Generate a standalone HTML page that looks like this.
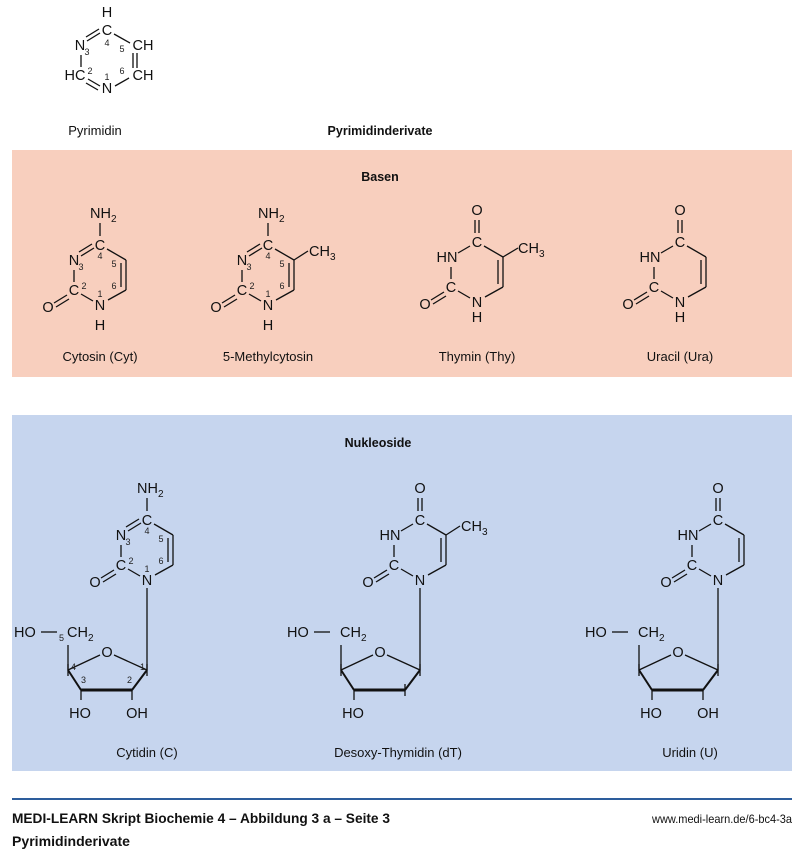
<!DOCTYPE html>
<html><head><meta charset="utf-8"><style>
html,body{margin:0;padding:0;background:#fff;width:800px;height:852px;overflow:hidden}
svg{display:block}
.a{font-family:"Liberation Sans",Arial,sans-serif;font-size:14.5px;fill:#111}
.s{font-family:"Liberation Sans",Arial,sans-serif;font-size:10px;fill:#111}
.n{font-family:"Liberation Sans",Arial,sans-serif;font-size:9px;fill:#222}
.l{font-family:"Liberation Sans",Arial,sans-serif;font-size:13px;fill:#111}
.b{font-family:"Liberation Sans",Arial,sans-serif;font-size:12.5px;font-weight:bold;fill:#111}
.f{font-family:"Liberation Sans",Arial,sans-serif;font-size:14px;font-weight:bold;fill:#111}
line,polyline{stroke:#111;stroke-width:1.3;fill:none}
</style></head><body>
<svg width="800" height="852" viewBox="0 0 800 852" xmlns="http://www.w3.org/2000/svg">
<defs>
<g id="cyt">
  <text class="a" x="0" y="-25" text-anchor="middle">C</text>
  <text class="a" x="-26" y="-10" text-anchor="middle">N</text>
  <text class="a" x="-26" y="20" text-anchor="middle">C</text>
  <text class="a" x="0" y="35" text-anchor="middle">N</text>
  <text class="a" x="0" y="55" text-anchor="middle">H</text>
  <text class="a" x="-52" y="37" text-anchor="middle">O</text>
  <text class="a" x="-10" y="-57">NH<tspan class="s" dy="4">2</tspan></text>
  <line x1="0" y1="-52" x2="0" y2="-39"/>
  <line x1="-19" y1="-19" x2="-6" y2="-27"/>
  <line x1="-21" y1="-23" x2="-8" y2="-31"/>
  <line x1="-26" y1="-5" x2="-26" y2="7"/>
  <line x1="-19" y1="19" x2="-7" y2="26"/>
  <line x1="7" y1="-26" x2="26" y2="-15"/>
  <line x1="26" y1="-15" x2="26" y2="15"/>
  <line x1="26" y1="15" x2="8" y2="25"/>
  <line x1="-33" y1="20" x2="-46" y2="28"/>
  <line x1="-31" y1="24" x2="-44" y2="32"/>
  <text class="n" x="0" y="-16" text-anchor="middle">4</text>
  <text class="n" x="14" y="-8" text-anchor="middle">5</text>
  <text class="n" x="14" y="14" text-anchor="middle">6</text>
  <text class="n" x="0" y="22" text-anchor="middle">1</text>
  <text class="n" x="-16" y="14" text-anchor="middle">2</text>
  <text class="n" x="-19" y="-5" text-anchor="middle">3</text>
</g>
<g id="ura">
  <text class="a" x="0" y="-25" text-anchor="middle">C</text>
  <text class="a" x="-30" y="-10" text-anchor="middle">HN</text>
  <text class="a" x="-26" y="20" text-anchor="middle">C</text>
  <text class="a" x="0" y="35" text-anchor="middle">N</text>
  <text class="a" x="-52" y="37" text-anchor="middle">O</text>
  <text class="a" x="0" y="-57" text-anchor="middle">O</text>
  <line x1="-2" y1="-52" x2="-2" y2="-39"/>
  <line x1="2" y1="-52" x2="2" y2="-39"/>
  <line x1="-19" y1="-19" x2="-7" y2="-26"/>
  <line x1="-26" y1="-5" x2="-26" y2="7"/>
  <line x1="-19" y1="19" x2="-7" y2="26"/>
  <line x1="7" y1="-26" x2="26" y2="-15"/>
  <line x1="26" y1="-15" x2="26" y2="15"/>
  <line x1="26" y1="15" x2="8" y2="25"/>
  <line x1="-33" y1="20" x2="-46" y2="28"/>
  <line x1="-31" y1="24" x2="-44" y2="32"/>
</g>
<g id="sug">
  <text class="a" x="-133" y="-33">HO</text>
  <line x1="-106" y1="-38" x2="-90" y2="-38"/>
  <text class="a" x="-80" y="-33">CH<tspan class="s" dy="4">2</tspan></text>
  <text class="a" x="-40" y="-13" text-anchor="middle">O</text>
  <line x1="-79" y1="-25" x2="-79" y2="0"/>
  <line x1="-79" y1="0" x2="-47" y2="-15"/>
  <line x1="-33" y1="-15" x2="0" y2="0"/>
  <line x1="-79" y1="-6" x2="-79" y2="6"/>
  <line x1="0" y1="-6" x2="0" y2="6"/>
  <line x1="-79" y1="0" x2="-66" y2="20" style="stroke-width:2"/>
  <line x1="0" y1="0" x2="-15" y2="20" style="stroke-width:2"/>
  <line x1="-66" y1="20" x2="-15" y2="20" style="stroke-width:3"/>
  <line x1="-66" y1="20" x2="-66" y2="30"/>
  <text class="a" x="-67" y="48" text-anchor="middle">HO</text>
</g>
</defs>

<g transform="translate(107,60)">
  <text class="a" x="0" y="-43" text-anchor="middle">H</text>
  <text class="a" x="0" y="-25" text-anchor="middle">C</text>
  <text class="a" x="-27" y="-10" text-anchor="middle">N</text>
  <text class="a" x="-32" y="20" text-anchor="middle">HC</text>
  <text class="a" x="0" y="33" text-anchor="middle">N</text>
  <text class="a" x="36" y="-10" text-anchor="middle">CH</text>
  <text class="a" x="36" y="20" text-anchor="middle">CH</text>
  <line x1="-20" y1="-19" x2="-7" y2="-27"/>
  <line x1="-21" y1="-23" x2="-8" y2="-31"/>
  <line x1="-26" y1="-5" x2="-26" y2="7"/>
  <line x1="-19" y1="19" x2="-7" y2="26"/>
  <line x1="-21" y1="23" x2="-9" y2="30"/>
  <line x1="7" y1="-26" x2="23" y2="-17"/>
  <line x1="26" y1="-7" x2="26" y2="8"/>
  <line x1="30" y1="-7" x2="30" y2="8"/>
  <line x1="22" y1="18" x2="8" y2="26"/>
  <text class="n" x="0" y="-14" text-anchor="middle">4</text>
  <text class="n" x="15" y="-8" text-anchor="middle">5</text>
  <text class="n" x="15" y="14" text-anchor="middle">6</text>
  <text class="n" x="0" y="20" text-anchor="middle">1</text>
  <text class="n" x="-17" y="14" text-anchor="middle">2</text>
  <text class="n" x="-20" y="-5" text-anchor="middle">3</text>
</g>
<text class="l" x="95" y="135" text-anchor="middle">Pyrimidin</text>
<text class="b" x="380" y="135" text-anchor="middle">Pyrimidinderivate</text>

<rect x="12" y="150" width="780" height="227" fill="#f8cfbe"/>
<text class="b" x="380" y="181" text-anchor="middle">Basen</text>
<use href="#cyt" transform="translate(100,275)"/>
<line x1="121" y1="263" x2="121" y2="287"/>
<use href="#cyt" transform="translate(268,275)"/>
<line x1="289" y1="263" x2="289" y2="287"/>
<line x1="294" y1="260" x2="308" y2="251"/>
<text class="a" x="309" y="256">CH<tspan class="s" dy="4">3</tspan></text>
<use href="#ura" transform="translate(477,272)"/>
<text class="a" x="477" y="322" text-anchor="middle">H</text>
<line x1="498" y1="260" x2="498" y2="284"/>
<line x1="503" y1="257" x2="518" y2="248"/>
<text class="a" x="518" y="253">CH<tspan class="s" dy="4">3</tspan></text>
<use href="#ura" transform="translate(680,272)"/>
<text class="a" x="680" y="322" text-anchor="middle">H</text>
<line x1="701" y1="260" x2="701" y2="284"/>
<text class="l" x="100" y="361" text-anchor="middle">Cytosin (Cyt)</text>
<text class="l" x="268" y="361" text-anchor="middle">5-Methylcytosin</text>
<text class="l" x="477" y="361" text-anchor="middle">Thymin (Thy)</text>
<text class="l" x="680" y="361" text-anchor="middle">Uracil (Ura)</text>

<rect x="12" y="415" width="780" height="356" fill="#c6d5ee"/>
<text class="b" x="378" y="447" text-anchor="middle">Nukleoside</text>

<use href="#cyt" transform="translate(147,550)"/>
<rect x="130" y="595" width="30" height="14" fill="#c6d5ee"/>
<line x1="168" y1="538" x2="168" y2="562"/>
<line x1="147" y1="588" x2="147" y2="670"/>
<use href="#sug" transform="translate(147,670)"/>
<line x1="132" y1="690" x2="132" y2="700"/>
<text class="a" x="137" y="718" text-anchor="middle">OH</text>
<text class="n" x="59" y="641">5</text>
<text class="n" x="140" y="670">1</text>
<text class="n" x="127" y="683">2</text>
<text class="n" x="81" y="683">3</text>
<text class="n" x="71" y="670">4</text>

<use href="#ura" transform="translate(420,550)"/>
<line x1="441" y1="538" x2="441" y2="562"/>
<line x1="446" y1="535" x2="460" y2="526"/>
<text class="a" x="461" y="531">CH<tspan class="s" dy="4">3</tspan></text>
<line x1="420" y1="588" x2="420" y2="670"/>
<use href="#sug" transform="translate(420,670)"/>
<line x1="405" y1="684" x2="405" y2="696"/>

<use href="#ura" transform="translate(718,550)"/>
<line x1="739" y1="538" x2="739" y2="562"/>
<line x1="718" y1="588" x2="718" y2="670"/>
<use href="#sug" transform="translate(718,670)"/>
<line x1="703" y1="690" x2="703" y2="700"/>
<text class="a" x="708" y="718" text-anchor="middle">OH</text>

<text class="l" x="147" y="757" text-anchor="middle">Cytidin (C)</text>
<text class="l" x="398" y="757" text-anchor="middle">Desoxy-Thymidin (dT)</text>
<text class="l" x="690" y="757" text-anchor="middle">Uridin (U)</text>

<rect x="12" y="798" width="780" height="2" fill="#2d5d9c"/>
<text class="f" x="12" y="823" textLength="378" lengthAdjust="spacingAndGlyphs">MEDI-LEARN Skript Biochemie 4 – Abbildung 3 a – Seite 3</text>
<text class="l" x="652" y="823" textLength="140" lengthAdjust="spacingAndGlyphs" style="font-size:12px">www.medi-learn.de/6-bc4-3a</text>
<text class="f" x="12" y="846" textLength="118" lengthAdjust="spacingAndGlyphs">Pyrimidinderivate</text>
</svg>
</body></html>
